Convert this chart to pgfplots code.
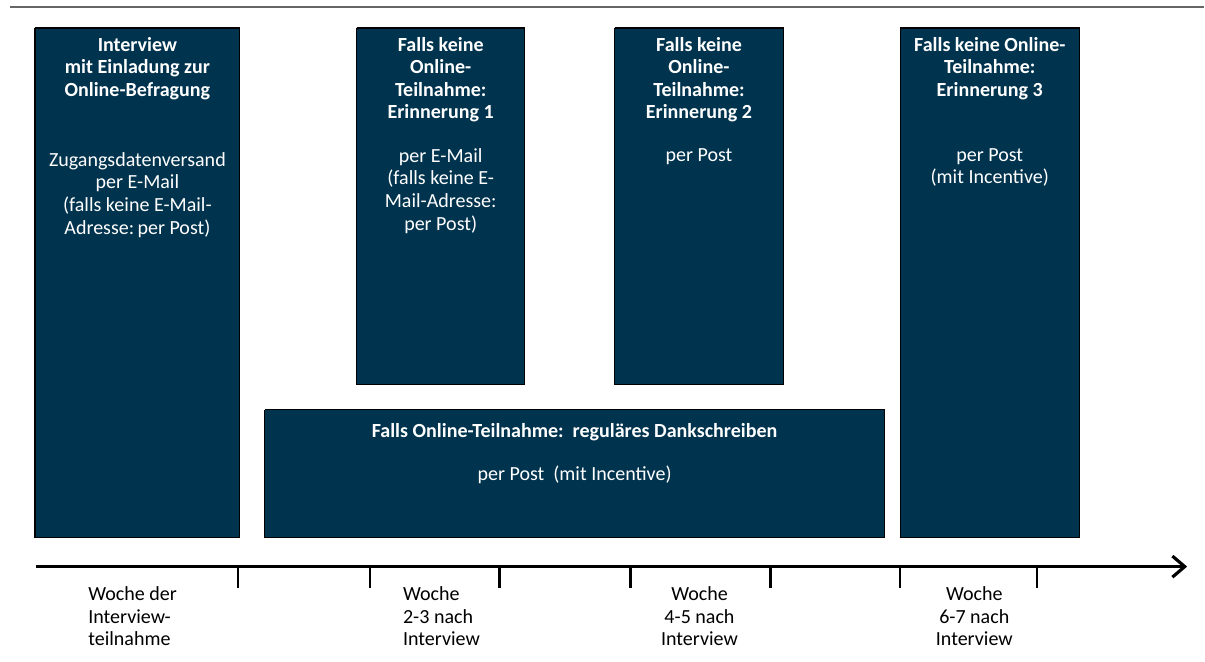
\documentclass[border=0pt]{standalone}
\usepackage{fontspec}
\setmainfont{Carlito}
\usepackage{pgfplots}
\pgfplotsset{compat=1.18}
\usetikzlibrary{arrows.meta}
\definecolor{navy}{HTML}{00334E}

% box corners in picture pixels (x left, x right, y top, y bottom)
\newcommand\stepbox[4]{%
  \addplot[draw=black, line width=0.6pt, fill=navy]
    coordinates {(#1,#3) (#2,#3) (#2,#4) (#1,#4) (#1,#3)};}

\begin{document}
\begin{tikzpicture}
\begin{axis}[
    width=24.1cm, height=13.24cm,
    scale only axis,
    xmin=0, xmax=1205, ymin=0, ymax=662,
    y dir=reverse,
    axis lines=none,
    clip=false,
    ]
\addplot[draw=none] coordinates {(0,0) (1205,662)};
% rule at the top
\addplot[color=black!60, line width=1pt] coordinates {(10,7) (1205,7)};

\stepbox{35}{240}{28}{538}
\stepbox{357}{525}{28}{385}
\stepbox{615}{784}{28}{385}
\stepbox{901}{1080}{28}{538}
\stepbox{265}{885}{410}{538}

% time line
\addplot[black, line width=1.8pt, -{Straight Barb[length=7pt,width=12pt,line width=1.8pt]}]
  coordinates {(36,567) (1188,567)};
\addplot[black, line width=1.3pt, unbounded coords=jump] coordinates {
  (238,567) (238,588) (nan,nan)
  (370,567) (370,588) (nan,nan)
  (500,567) (500,588) (nan,nan)
  (631,567) (631,588) (nan,nan)
  (771,567) (771,588) (nan,nan)
  (901,567) (901,588) (nan,nan)
  (1038,567) (1038,588)};

\tikzset{
  hd/.style={anchor=north, align=center, text=white, inner sep=0pt,
    font=\fontsize{11.4}{12.8}\selectfont\bfseries},
  bd/.style={anchor=north, align=center, text=white, inner sep=0pt,
    font=\fontsize{11.4}{12.9}\selectfont},
  wk/.style={anchor=north west, align=left, inner sep=0pt,
    font=\fontsize{11.4}{12.8}\selectfont},
}
\node[hd] at (137.5,37) {Interview\\mit Einladung zur\\Online-Befragung};
\node[bd] at (137.5,152) {Zugangsdatenversand\\per E-Mail\\(falls keine E-Mail-\\Adresse:\,per Post)};

\node[hd] at (441,37) {Falls keine\\Online-\\Teilnahme:\\Erinnerung 1};
\node[bd] at (441,148) {per E-Mail\\(falls keine E-\\Mail-Adresse:\\per Post)};

\node[hd] at (699.5,37) {Falls keine\\Online-\\Teilnahme:\\Erinnerung 2};
\node[bd] at (699.5,148) {per Post};

\node[hd] at (990.5,37) {Falls keine Online-\\Teilnahme:\\Erinnerung 3};
\node[bd] at (990.5,148) {per Post\\(mit Incentive)};

\node[hd] at (575,423) {Falls Online-Teilnahme:\ \ reguläres Dankschreiben};
\node[bd] at (575,466) {per Post\ \ (mit Incentive)};

\node[wk] at (88,587) {Woche der\\Interview-\\teilnahme};
\node[wk] at (403,587) {Woche\\2-3 nach\\Interview};
\node[wk, anchor=north, align=center] at (700,587) {Woche\\4-5 nach\\Interview};
\node[wk, anchor=north, align=center] at (975,587) {Woche\\6-7 nach\\Interview};
\end{axis}
\end{tikzpicture}
\end{document}
